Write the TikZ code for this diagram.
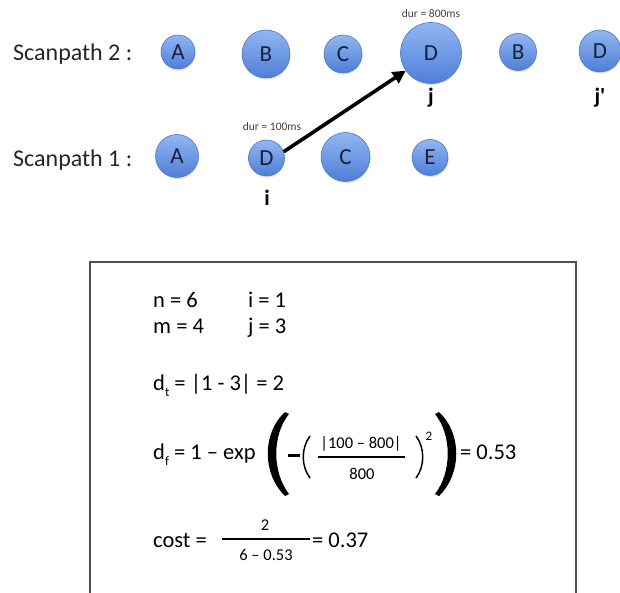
\documentclass[tikz,border=0pt]{standalone}
\usepackage{fontspec}
\setmainfont{Carlito}
\usetikzlibrary{arrows.meta,shadows}
\definecolor{circtop}{RGB}{145,182,242}
\definecolor{circbot}{RGB}{78,126,214}
\definecolor{circedge}{RGB}{78,118,196}
\definecolor{lettercol}{RGB}{24,32,60}
\definecolor{boxedge}{RGB}{80,80,80}
\tikzset{
  fix/.style={circle, inner sep=0pt, minimum size=#1, top color=circtop, bottom color=circbot,
    draw=circedge, line width=0.6pt, text=lettercol, font=\fontsize{23}{23}\selectfont,
    drop shadow={opacity=0.22, shadow xshift=0.6pt, shadow yshift=-1.6pt}},
  rowlabel/.style={anchor=base west, inner sep=0pt, text=black!85, font=\fontsize{24}{28}\selectfont},
  durlabel/.style={anchor=base, inner sep=0pt, text=black!75, font=\fontsize{11.5}{12}\selectfont},
  idxlabel/.style={anchor=base, inner sep=0pt, font=\bfseries\fontsize{22}{22}\selectfont},
  eq/.style={anchor=base west, inner sep=0pt, font=\fontsize{22.5}{26}\selectfont},
  small/.style={anchor=base, inner sep=0pt, font=\fontsize{16.5}{17}\selectfont},
}
\newcommand{\mysub}[1]{\raisebox{-0.28em}{\fontsize{13}{13}\selectfont #1}}
\begin{document}
\begin{tikzpicture}[x=1pt,y=-1pt]
\useasboundingbox (0,0) rectangle (620,593);
% Scanpath 2
\node[rowlabel] (lab2) at (13,61) {Scanpath 2 :};
\node[fix=34pt] (a2) at (178,52) {A};
\node[fix=48pt] (b2) at (266,54) {B};
\node[fix=38pt] (c2) at (343,54) {C};
\node[fix=61pt] (d2) at (431,53) {D};
\node[fix=37pt] (b2b) at (518,52) {B};
\node[fix=42pt] (d2b) at (600,51) {D};
\node[durlabel] (dur2) at (431,18) {dur = 800ms};
\node[idxlabel] (j) at (431,104) {j};
\node[idxlabel] (jp) at (600,104) {j\textquotesingle};
% Scanpath 1
\node[rowlabel] (lab1) at (13,167) {Scanpath 1 :};
\node[fix=43pt] (a1) at (177,156) {A};
\node[fix=36pt] (d1) at (266.5,158) {D};
\node[fix=49pt] (c1) at (345.5,157) {C};
\node[fix=36pt] (e1) at (430,157.5) {E};
\node[durlabel] (dur1) at (272,131) {dur = 100ms};
\node[idxlabel] (i) at (267,206) {i};
% arrow
\draw[line width=3.6pt, -{Triangle[length=13pt,width=13pt]}] (d1.20) -- (d2.215);
% box
\draw[boxedge, line width=1.3pt] (90,596) -- (90,262) -- (576,262) -- (576,596);
% equations
\node[eq] (n) at (153,307) {n = 6};
\node[eq] (iv) at (248,307) {i = 1};
\node[eq] (m) at (153,333) {m = 4};
\node[eq] (jv) at (248,333) {j = 3};
\node[eq] (dt) at (153,390) {d\mysub{t} = |1 - 3| = 2};
\node[eq] (df) at (153,459) {d\mysub{f} = 1 – exp};
% big parens
\fill (285,412) .. controls (262,433) and (262,474) .. (285,496)
  -- (289,494) .. controls (272,472) and (272,435) .. (289,414) -- cycle;
\fill (439,412) .. controls (462,433) and (462,474) .. (439,496)
  -- (435,494) .. controls (452,472) and (452,435) .. (435,414) -- cycle;
\draw[line width=3pt] (288,455) -- (300,455);
\draw[line width=1.5pt] (310,436) .. controls (301,448) and (301,466) .. (310,478);
\draw[line width=1.5pt] (416,436) .. controls (425,448) and (425,466) .. (416,478);
\node[small] (num) at (361,448) {|100 – 800|};
\draw[line width=1.5pt] (318,457) -- (405,457);
\node[small] (den) at (362,479) {800};
\node[anchor=base, inner sep=0pt, font=\fontsize{13}{13}\selectfont] (sq) at (429,440) {2};
\node[eq] (r1) at (460,459) {= 0.53};
\node[eq] (cost) at (153,547) {cost =};
\draw[line width=2pt] (222,539) -- (310,539);
\node[small] (cn) at (265,530) {2};
\node[small] (cd) at (266,560) {6 – 0.53};
\node[eq] (r2) at (312,547) {= 0.37};
\end{tikzpicture}
\end{document}
